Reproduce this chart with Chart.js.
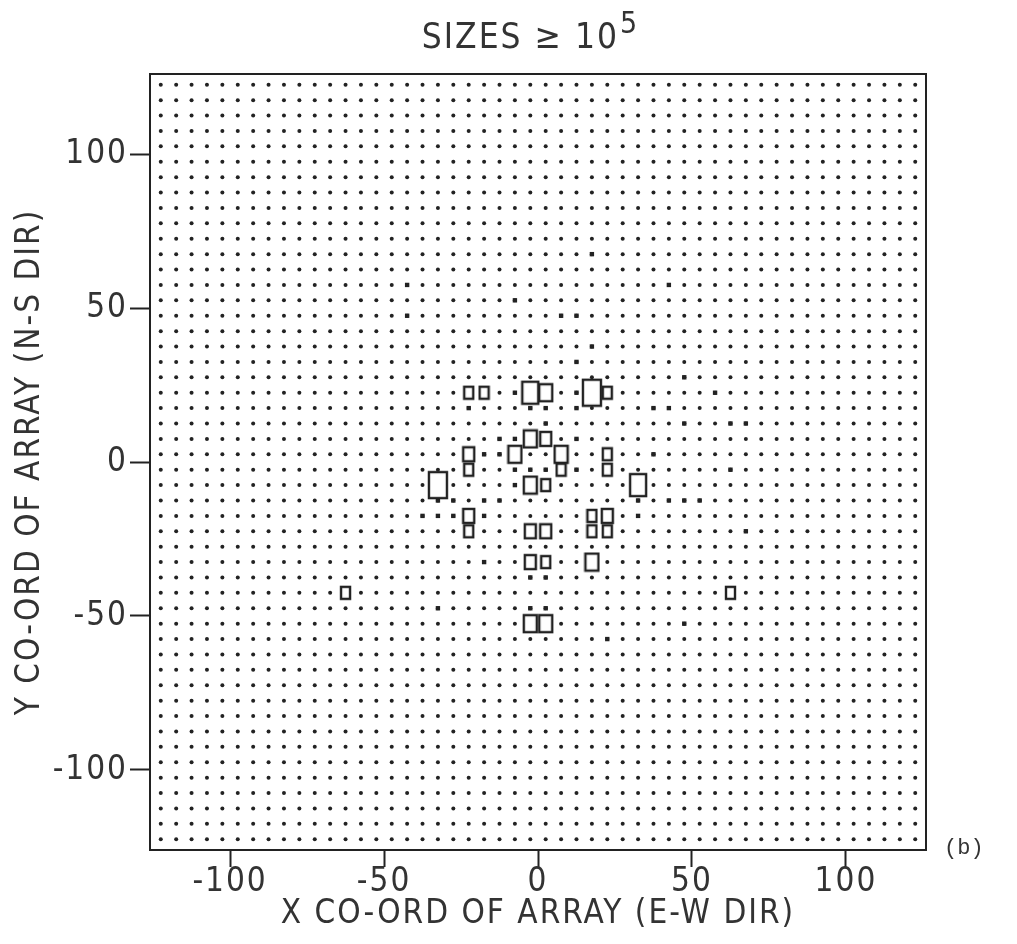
<!DOCTYPE html>
<html>
<head>
<meta charset="utf-8">
<script src="https://cdn.jsdelivr.net/npm/chart.js@4.4.1/dist/chart.umd.min.js"></script>
<style>
  html, body { margin: 0; padding: 0; background: #fff; }
  #wrap { position: relative; width: 1017px; height: 944px; }
  #tag { position: absolute; left: 944px; top: 836px; font: 22px 'Liberation Mono', 'DejaVu Sans Mono', monospace; color: #333; }
</style>
</head>
<body>
<div id="wrap">
  <canvas id="plot" width="1017" height="944"></canvas>
  <div id="tag">(b)</div>
</div>
<script>
// detector lattice (metres), same spacing both ways
const detectorCols = [-122.5, -117.5, -112.5, -107.5, -102.5, -97.5, -92.5, -87.5, -82.5, -77.5,
  -72.5, -67.5, -62.5, -57.5, -52.5, -47.5, -42.5, -37.5, -32.5, -27.5,
  -22.5, -17.5, -12.5, -7.5, -2.5, 2.5, 7.5, 12.5, 17.5, 22.5,
  27.5, 32.5, 37.5, 42.5, 47.5, 52.5, 57.5, 62.5, 67.5, 72.5,
  77.5, 82.5, 87.5, 92.5, 97.5, 102.5, 107.5, 112.5, 117.5, 122.5];
const detectorRows = [122.5, 117.5, 112.5, 107.5, 102.5, 97.5, 92.5, 87.5, 82.5, 77.5,
  72.5, 67.5, 62.5, 57.5, 52.5, 47.5, 42.5, 37.5, 32.5, 27.5,
  22.5, 17.5, 12.5, 7.5, 2.5, -2.5, -7.5, -12.5, -17.5, -22.5,
  -27.5, -32.5, -37.5, -42.5, -47.5, -52.5, -57.5, -62.5, -67.5, -72.5,
  -77.5, -82.5, -87.5, -92.5, -97.5, -102.5, -107.5, -112.5, -117.5, -122.5];

// detectors with a heavier mark
const heavyX = [12.5, -7.5, 12.5, -22.5, -2.5, 2.5, 12.5, 37.5, 2.5, -12.5, -7.5, 12.5, -17.5, -12.5,
  -7.5, -2.5, 2.5, 12.5, -7.5, -32.5, -27.5, 32.5, -32.5, -27.5, -17.5, 32.5, -17.5, -2.5, -2.5, 2.5,
  -42.5, -42.5, -7.5, 17.5, 42.5, 7.5, 12.5, 17.5, 47.5, 57.5, 42.5, 47.5, 62.5, 67.5, 37.5, 62.5,
  -37.5, -17.5, -12.5, -32.5, 42.5, 47.5, 52.5, 67.5, 2.5, 47.5, 22.5];
const heavyY = [32.5, 22.5, 22.5, 17.5, 17.5, 17.5, 17.5, 17.5, 12.5, 7.5, 7.5, 7.5, 2.5, 2.5,
  -2.5, -2.5, -2.5, -2.5, -7.5, -12.5, -12.5, -12.5, -17.5, -17.5, -17.5, -17.5, -32.5, -37.5, -47.5, -47.5,
  57.5, 47.5, 52.5, 67.5, 57.5, 47.5, 47.5, 37.5, 27.5, 22.5, 17.5, 12.5, 12.5, 12.5, 2.5, -2.5,
  -17.5, -12.5, -12.5, -47.5, -12.5, -12.5, -12.5, -22.5, -37.5, -52.5, -57.5];

// detectors with size >= 1e5, sizeClass 1 (smallest) .. 5 (largest)
const hitX = [-22.5, -17.5, -2.5, 2.5, 17.5, 22.5, -2.5, 2.5, -22.5, -7.5, 7.5, 22.5, -22.5, 7.5, 22.5,
  -32.5, -2.5, 2.5, 32.5, -22.5, 17.5, 22.5, -22.5, -2.5, 2.5, 17.5, 22.5, -2.5, 2.5, 17.5,
  -2.5, 2.5, -62.5, 62.5];
const hitY = [22.5, 22.5, 22.5, 22.5, 22.5, 22.5, 7.5, 7.5, 2.5, 2.5, 2.5, 2.5, -2.5, -2.5, -2.5,
  -7.5, -7.5, -7.5, -7.5, -17.5, -17.5, -17.5, -22.5, -22.5, -22.5, -22.5, -22.5, -32.5, -32.5, -32.5,
  -52.5, -52.5, -42.5, -42.5];
const sizeClass = [1, 1, 4, 3, 5, 1, 3, 2, 2, 3, 3, 1, 1, 1, 1,
  5, 3, 1, 4, 2, 1, 2, 1, 2, 2, 1, 1, 2, 1, 3,
  3, 3, 1, 1];

const tickValues = [-100, -50, 0, 50, 100];
const titleMain = 'SIZES \u2265 10';
const titleSup = '5';
const xTitle = 'X CO-ORD OF ARRAY (E-W DIR)';
const yTitle = 'Y CO-ORD OF ARRAY (N-S DIR)';

const FONT = "'Liberation Sans Narrow', 'DejaVu Sans Condensed', 'Roboto Condensed', sans-serif";
const INK = '#222';
const TEXT = '#333';

const boxDims = { 1: [9, 12], 2: [11, 14], 3: [13, 17], 4: [16, 22], 5: [18, 26] };
const boxCache = {};
function boxFor(cls) {
  if (boxCache[cls]) return boxCache[cls];
  const [w, h] = boxDims[cls];
  const c = document.createElement('canvas');
  c.width = w + 4;
  c.height = h + 4;
  const g = c.getContext('2d');
  g.fillStyle = '#fff';
  g.strokeStyle = INK;
  g.lineWidth = 2.4;
  g.fillRect(2, 2, w, h);
  g.strokeRect(2, 2, w, h);
  boxCache[cls] = c;
  return c;
}

const gridPts = [];
detectorRows.forEach(y => detectorCols.forEach(x => gridPts.push({ x, y })));
const heavyPts = heavyX.map((x, i) => ({ x, y: heavyY[i] }));
const hitPts = hitX.map((x, i) => ({ x, y: hitY[i], c: sizeClass[i] }));

const frame = {
  id: 'frame',
  beforeDraw(chart) {
    chart.ctx.letterSpacing = '2px';
  },
  afterDraw(chart) {
    const { ctx, chartArea: a } = chart;
    ctx.save();
    ctx.strokeStyle = INK;
    ctx.lineWidth = 2;
    ctx.strokeRect(a.left, a.top, a.right - a.left, a.bottom - a.top);

    // heading with a raised exponent
    ctx.fillStyle = TEXT;
    ctx.textBaseline = 'alphabetic';
    ctx.textAlign = 'left';
    ctx.font = `35px ${FONT}`;
    const w1 = ctx.measureText(titleMain).width;
    ctx.font = `30px ${FONT}`;
    const w2 = ctx.measureText(titleSup).width;
    const x0 = (a.left + a.right) / 2 - (w1 + w2) / 2 - 8;
    ctx.font = `35px ${FONT}`;
    ctx.fillText(titleMain, x0, 48);
    ctx.font = `30px ${FONT}`;
    ctx.fillText(titleSup, x0 + w1 + 1, 33);
    ctx.restore();
  }
};

const axisCommon = {
  type: 'linear',
  min: -126,
  max: 126,
  afterBuildTicks: s => { s.ticks = tickValues.map(v => ({ value: v })); },
  border: { display: true, color: INK, width: 2 },
  ticks: { color: TEXT, font: { family: FONT, size: 33 }, padding: 2 }
};

new Chart(document.getElementById('plot'), {
  type: 'scatter',
  data: {
    datasets: [
      {
        data: hitPts,
        pointStyle: ctx => boxFor(ctx.raw.c),
        pointRadius: 8
      },
      {
        data: heavyPts,
        pointStyle: 'rect',
        pointRadius: 3.1,
        backgroundColor: INK,
        borderWidth: 0
      },
      {
        data: gridPts,
        pointStyle: 'circle',
        pointRadius: 2,
        backgroundColor: INK,
        borderWidth: 0
      }
    ]
  },
  options: {
    responsive: false,
    animation: false,
    devicePixelRatio: 1,
    layout: { padding: { left: 0, right: 91, top: 74, bottom: 0 } },
    plugins: {
      legend: { display: false },
      tooltip: { enabled: false },
      title: { display: false }
    },
    scales: {
      x: {
        ...axisCommon,
        position: 'bottom',
        afterFit: s => { s.height = 94; },
        ticks: { ...axisCommon.ticks, padding: -4 },
        grid: { drawOnChartArea: false, tickLength: 17, tickColor: INK, tickWidth: 2 },
        title: { display: true, text: xTitle, color: TEXT, font: { family: FONT, size: 33, lineHeight: 1.2 }, padding: { top: 0, bottom: 10 } }
      },
      y: {
        ...axisCommon,
        position: 'left',
        afterFit: s => { s.width = 150; },
        grid: { drawOnChartArea: false, tickLength: 20, tickColor: INK, tickWidth: 2 },
        title: { display: true, text: yTitle, color: TEXT, font: { family: FONT, size: 33, lineHeight: 1.2 }, padding: { top: 11, bottom: 0 } }
      }
    }
  },
  plugins: [frame]
});
</script>
</body>
</html>
